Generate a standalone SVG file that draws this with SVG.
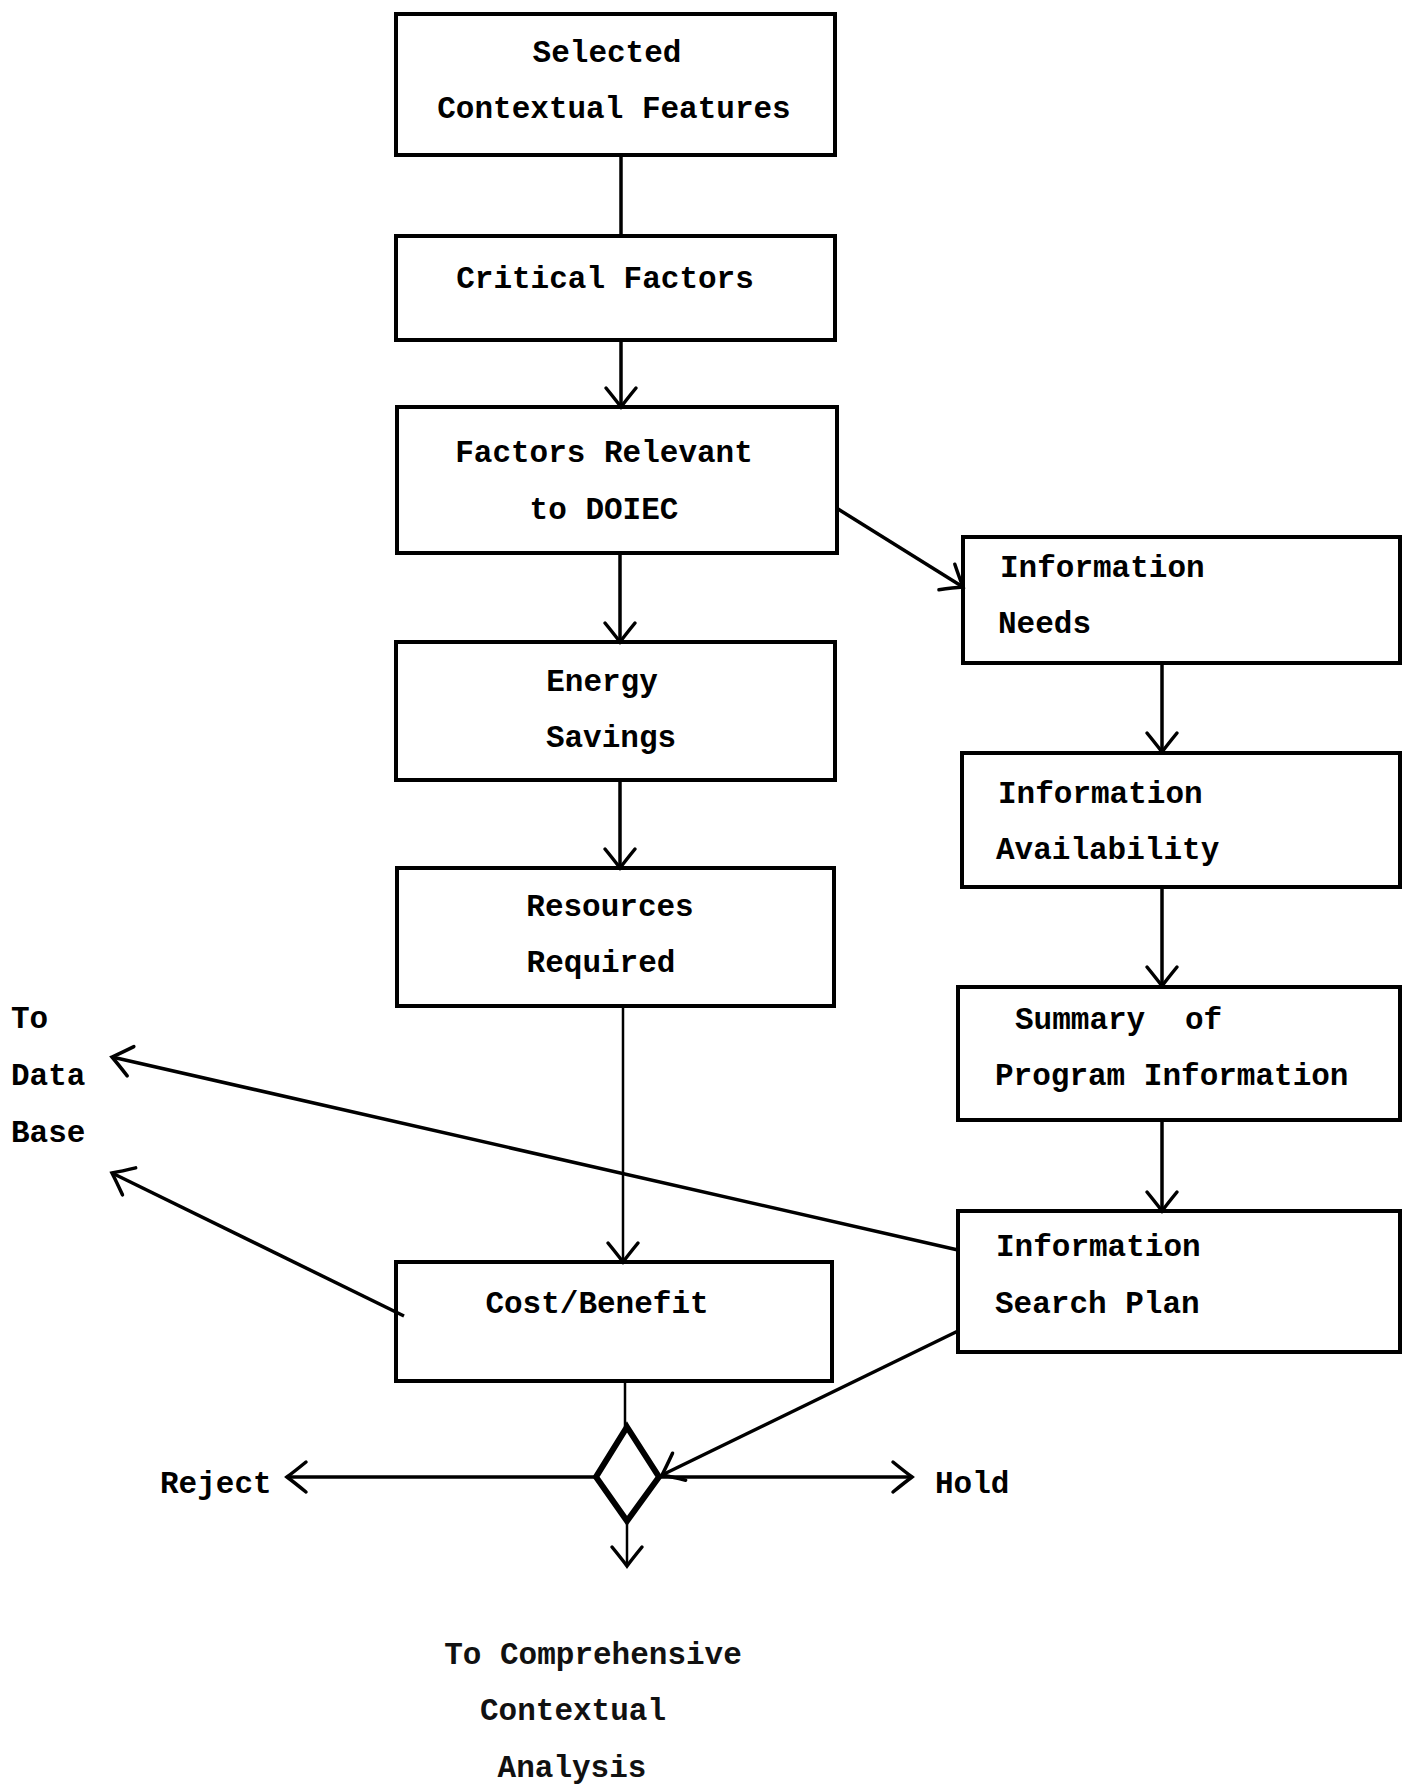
<svg xmlns="http://www.w3.org/2000/svg" width="1403" height="1787" viewBox="0 0 1403 1787">
<style>
.box{fill:none;stroke:#000;stroke-width:4}
.t{font-family:"Liberation Mono","DejaVu Sans Mono",monospace;font-weight:bold;font-size:31px;fill:#000}
.tr{font-family:"Liberation Mono","DejaVu Sans Mono",monospace;font-weight:bold;font-size:31px;fill:#111}
.c{fill:none;stroke:#000;stroke-width:3.5}
.c2{fill:none;stroke:#000;stroke-width:2.5}
</style>
<defs>
<marker id="arr" viewBox="-24 -18 28 36" refX="0" refY="0" markerWidth="28" markerHeight="36" orient="auto" markerUnits="userSpaceOnUse">
<path d="M-19,-15 Q-8,-6 0,0 Q-8,6 -19,15" fill="none" stroke="#000" stroke-width="3.5" stroke-linecap="round"/>
</marker>
</defs>
<rect width="1403" height="1787" fill="#fff"/>
<g id="connectors">
<line class="c" x1="621" y1="155" x2="621" y2="236"/>
<line class="c" x1="621" y1="340" x2="621" y2="407" marker-end="url(#arr)"/>
<line class="c" x1="620" y1="553" x2="620" y2="642" marker-end="url(#arr)"/>
<line class="c" x1="620" y1="780" x2="620" y2="868" marker-end="url(#arr)"/>
<line class="c2" x1="623" y1="1006" x2="623" y2="1262" marker-end="url(#arr)"/>
<line class="c" x1="838" y1="509" x2="963" y2="587" marker-end="url(#arr)"/>
<line class="c" x1="1162" y1="663" x2="1162" y2="752" marker-end="url(#arr)"/>
<line class="c" x1="1162" y1="887" x2="1162" y2="986" marker-end="url(#arr)"/>
<line class="c" x1="1162" y1="1120" x2="1162" y2="1211" marker-end="url(#arr)"/>
<line class="c" x1="958" y1="1250" x2="112" y2="1057" marker-end="url(#arr)"/>
<line class="c" x1="404" y1="1316" x2="112" y2="1173" marker-end="url(#arr)"/>
<line class="c" x1="958" y1="1331" x2="662" y2="1475" marker-end="url(#arr)"/>
<line class="c2" x1="625" y1="1381" x2="625" y2="1427"/>
<line class="c" x1="596" y1="1477" x2="287" y2="1477" marker-end="url(#arr)"/>
<line class="c" x1="659" y1="1477" x2="912" y2="1477" marker-end="url(#arr)"/>
<line class="c2" x1="627" y1="1521" x2="627" y2="1566" marker-end="url(#arr)"/>
</g>
<g id="selected-contextual-features">
<rect class="box" x="396" y="14" width="439" height="141"/>
<text class="t" x="607" y="62" text-anchor="middle">Selected</text>
<text class="t" x="614" y="118" text-anchor="middle">Contextual Features</text>
</g>
<g id="critical-factors">
<rect class="box" x="396" y="236" width="439" height="104"/>
<text class="t" x="605" y="288" text-anchor="middle">Critical Factors</text>
</g>
<g id="factors-relevant">
<rect class="box" x="397" y="407" width="440" height="146"/>
<text class="t" x="604" y="462" text-anchor="middle">Factors Relevant</text>
<text class="t" x="604" y="519" text-anchor="middle">to DOIEC</text>
</g>
<g id="energy-savings">
<rect class="box" x="396" y="642" width="439" height="138"/>
<text class="t" x="602" y="691" text-anchor="middle">Energy</text>
<text class="t" x="611" y="747" text-anchor="middle">Savings</text>
</g>
<g id="resources-required">
<rect class="box" x="397" y="868" width="437" height="138"/>
<text class="t" x="610" y="916" text-anchor="middle">Resources</text>
<text class="t" x="601" y="972" text-anchor="middle">Required</text>
</g>
<g id="cost-benefit">
<rect class="box" x="396" y="1262" width="436" height="119"/>
<text class="t" x="597" y="1313" text-anchor="middle">Cost/Benefit</text>
</g>
<g id="information-needs">
<rect class="box" x="963" y="537" width="437" height="126"/>
<text class="t" x="1000" y="577">Information</text>
<text class="t" x="998" y="633">Needs</text>
</g>
<g id="information-availability">
<rect class="box" x="962" y="753" width="438" height="134"/>
<text class="t" x="998" y="803">Information</text>
<text class="t" x="996" y="859">Availability</text>
</g>
<g id="summary-program-information">
<rect class="box" x="958" y="987" width="442" height="133"/>
<text class="t" x="1015" y="1029">Summary<tspan x="1185">of</tspan></text>
<text class="t" x="995" y="1085">Program Information</text>
</g>
<g id="information-search-plan">
<rect class="box" x="958" y="1211" width="442" height="141"/>
<text class="t" x="996" y="1256">Information</text>
<text class="t" x="995" y="1313">Search Plan</text>
</g>
<g id="decision">
<polygon points="627,1427 659,1477 627,1521 596,1477" fill="none" stroke="#000" stroke-width="6" stroke-linejoin="miter"/>
</g>
<g id="to-data-base">
<text class="t" x="11" y="1028">To</text>
<text class="t" x="11" y="1085">Data</text>
<text class="t" x="11" y="1142">Base</text>
</g>
<g id="reject">
<text class="t" x="160" y="1493">Reject</text>
</g>
<g id="hold">
<text class="t" x="935" y="1493">Hold</text>
</g>
<g id="to-comprehensive">
<text class="tr" x="593" y="1664" text-anchor="middle">To Comprehensive</text>
<text class="tr" x="573" y="1720" text-anchor="middle">Contextual</text>
<text class="tr" x="572" y="1777" text-anchor="middle">Analysis</text>
</g>
</svg>
